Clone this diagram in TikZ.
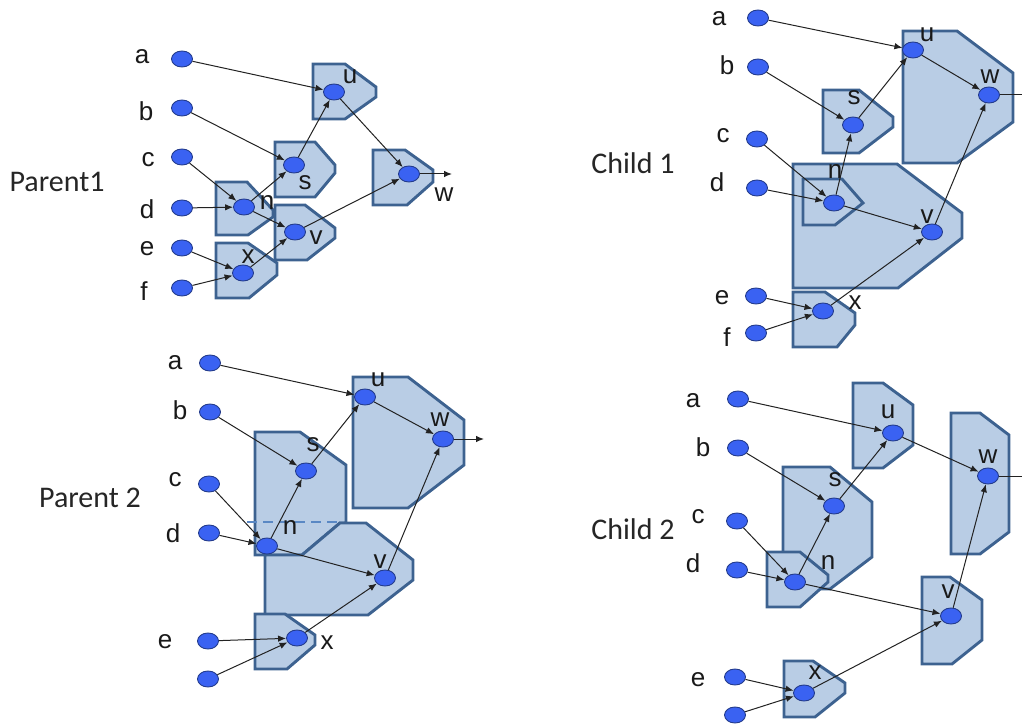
\documentclass[tikz,border=0pt]{standalone}
\usepackage{fontspec}
\setmainfont{Liberation Sans}
\newfontfamily\ttlfamily{Carlito}
\usetikzlibrary{shapes.geometric,arrows.meta}

\definecolor{blkfill}{HTML}{B9CDE5}
\definecolor{blkline}{HTML}{3D6290}
\definecolor{dotfill}{HTML}{3A62F2}
\definecolor{dotline}{HTML}{243C8C}
\definecolor{connc}{HTML}{222222}
\definecolor{dashc}{HTML}{5A88C4}
\definecolor{ttlc}{HTML}{262626}

\tikzset{
  blk/.style={fill=blkfill, draw=blkline, line width=2.9pt, line join=miter},
  bead/.style={ellipse, minimum width=21pt, minimum height=16pt, inner sep=0pt,
               fill=dotfill, draw=dotline, line width=0.9pt},
  lbl/.style={inner sep=0pt, text=black!90, font=\fontsize{26}{26}\selectfont},
  conn/.style={draw=connc, line width=1pt, -{Latex[length=8pt,width=6.5pt]}},
  ttl/.style={inner sep=0pt, text=ttlc, font=\ttlfamily\fontsize{30}{30}\selectfont},
  seam/.style={draw=dashc, line width=2.6pt, dash pattern=on 10pt off 6pt},
}

% the thirteen connections of one circuit, nodes prefixed by #1
\newcommand\wireup[1]{%
  \draw[conn] (#1a) -- (#1u);
  \draw[conn] (#1b) -- (#1s);
  \draw[conn] (#1c) -- (#1n);
  \draw[conn] (#1d) -- (#1n);
  \draw[conn] (#1e) -- (#1x);
  \draw[conn] (#1f) -- (#1x);
  \draw[conn] (#1n) -- (#1s);
  \draw[conn] (#1n) -- (#1v);
  \draw[conn] (#1x) -- (#1v);
  \draw[conn] (#1s) -- (#1u);
  \draw[conn] (#1u) -- (#1w);
  \draw[conn] (#1v) -- (#1w);
  \draw[conn] (#1w) -- (#1o);
}

\begin{document}
\begin{tikzpicture}[x=1pt,y=-1pt]
\useasboundingbox (0,0) rectangle (1022,727);

%% ---------------- Parent1 ----------------
\node[ttl] (t1) at (57,182) {Parent1};
\draw[blk] (313,64) -- (345,64) -- (376,87) -- (376,97) -- (345,119) -- (313,119) -- cycle;
\draw[blk] (275,142) -- (315,142) -- (335,165) -- (335,173) -- (315,197) -- (275,197) -- cycle;
\draw[blk] (373,150) -- (405,150) -- (433,170) -- (433,182) -- (407,205) -- (373,205) -- cycle;
\draw[blk] (216,182) -- (247,182) -- (273,210) -- (273,217) -- (248,235) -- (216,235) -- cycle;
\draw[blk] (275,205) -- (305,205) -- (335,228) -- (335,238) -- (307,260) -- (275,260) -- cycle;
\draw[blk] (216,243) -- (248,243) -- (277,263) -- (277,275) -- (249,298) -- (216,298) -- cycle;

\node[lbl] (P1la) at (142,57) {a};
\node[lbl] (P1lb) at (146,111) {b};
\node[lbl] (P1lc) at (148,160) {c};
\node[lbl] (P1ld) at (147,209) {d};
\node[lbl] (P1le) at (147,249) {e};
\node[lbl] (P1lf) at (144,291) {f};
\node[bead] (P1a) at (182,59) {};
\node[bead] (P1b) at (182,108) {};
\node[bead] (P1c) at (182,157) {};
\node[bead] (P1d) at (182,208) {};
\node[bead] (P1e) at (182,248) {};
\node[bead] (P1f) at (182,288) {};
\node[bead] (P1u) at (334,92) {};
\node[bead] (P1s) at (294,165) {};
\node[bead] (P1w) at (409,174) {};
\node[bead] (P1n) at (244,207) {};
\node[bead] (P1v) at (295,232) {};
\node[bead] (P1x) at (243,273) {};
\coordinate (P1o) at (452,174);
\node[lbl] (P1lu) at (350,77) {u};
\node[lbl] (P1ls) at (305,183) {s};
\node[lbl] (P1lw) at (444,195) {w};
\node[lbl] (P1ln) at (267,203) {n};
\node[lbl] (P1lv) at (316,238) {v};
\node[lbl] (P1lx) at (248,257) {x};
\wireup{P1}

%% ---------------- Child 1 ----------------
\node[ttl] (t2) at (633,163) {Child 1};
\draw[blk] (903,31) -- (957,31) -- (1013,73) -- (1013,122) -- (957,163) -- (903,163) -- cycle;
\draw[blk] (823,90) -- (859,90) -- (893,117) -- (893,127) -- (859,153) -- (823,153) -- cycle;
\draw[blk] (793,164) -- (897,164) -- (962,213) -- (962,238) -- (898,288) -- (793,288) -- cycle;
\draw[blk] (803,179) -- (842,179) -- (863,203) -- (835,225) -- (803,225) -- cycle;
\draw[blk] (793,292) -- (825,292) -- (855,313) -- (855,325) -- (837,347) -- (793,347) -- cycle;

\node[lbl] (C1la) at (719,19) {a};
\node[lbl] (C1lb) at (727,65) {b};
\node[lbl] (C1lc) at (723,136) {c};
\node[lbl] (C1ld) at (717,182) {d};
\node[lbl] (C1le) at (722,298) {e};
\node[lbl] (C1lf) at (727,337) {f};
\node[bead] (C1a) at (758,18) {};
\node[bead] (C1b) at (758,67) {};
\node[bead] (C1c) at (757,139) {};
\node[bead] (C1d) at (757,188) {};
\node[bead] (C1e) at (756,296) {};
\node[bead] (C1f) at (756,333) {};
\node[bead] (C1u) at (913,50) {};
\node[bead] (C1w) at (989,95) {};
\node[bead] (C1s) at (853,125) {};
\node[bead] (C1n) at (834,203) {};
\node[bead] (C1v) at (932,232) {};
\node[bead] (C1x) at (823,311) {};
\coordinate (C1o) at (1030,95);
\node[lbl] (C1lu) at (927,35) {u};
\node[lbl] (C1lw) at (990,77) {w};
\node[lbl] (C1ls) at (854,98) {s};
\node[lbl] (C1ln) at (835,172) {n};
\node[lbl] (C1lv) at (927,217) {v};
\node[lbl] (C1lx) at (855,303) {x};
\wireup{C1}

%% ---------------- Parent 2 ----------------
\node[ttl] (t3) at (90,498) {Parent 2};
\draw[blk] (353,377) -- (408,377) -- (464,420) -- (464,465) -- (408,508) -- (353,508) -- cycle;
\draw[blk] (255,432) -- (300,432) -- (346,465) -- (346,523) -- (340,523) -- (302,555) -- (255,555) -- cycle;
\draw[blk] (302,555) -- (340,523) -- (366,523) -- (413,560) -- (413,580) -- (368,615) -- (265,615) -- (265,555) -- cycle;
\draw[blk] (255,614) -- (285,614) -- (315,635) -- (315,645) -- (287,669) -- (255,669) -- cycle;
\draw[seam] (247,522) -- (340,522);

\node[lbl] (P2la) at (175,363) {a};
\node[lbl] (P2lb) at (180,410) {b};
\node[lbl] (P2lc) at (175,480) {c};
\node[lbl] (P2ld) at (173,533) {d};
\node[lbl] (P2le) at (165,642) {e};
\node[bead] (P2a) at (210,363) {};
\node[bead] (P2b) at (210,412) {};
\node[bead] (P2c) at (209,484) {};
\node[bead] (P2d) at (209,533) {};
\node[bead] (P2e) at (208,641) {};
\node[bead] (P2f) at (208,679) {};
\node[bead] (P2u) at (365,397) {};
\node[bead] (P2w) at (443,439) {};
\node[bead] (P2s) at (306,471) {};
\node[bead] (P2n) at (267,546) {};
\node[bead] (P2v) at (385,578) {};
\node[bead] (P2x) at (297,638) {};
\coordinate (P2o) at (484,439);
\node[lbl] (P2lu) at (378,380) {u};
\node[lbl] (P2lw) at (440,420) {w};
\node[lbl] (P2ls) at (313,445) {s};
\node[lbl] (P2ln) at (290,528) {n};
\node[lbl] (P2lv) at (380,562) {v};
\node[lbl] (P2lx) at (327,643) {x};
\wireup{P2}

%% ---------------- Child 2 ----------------
\node[ttl] (t4) at (633,529) {Child 2};
\draw[blk] (853,383) -- (883,383) -- (913,405) -- (913,445) -- (883,468) -- (853,468) -- cycle;
\draw[blk] (951,413) -- (980,413) -- (1009,435) -- (1009,532) -- (980,554) -- (951,554) -- cycle;
\draw[blk] (783,467) -- (830,467) -- (872,502) -- (872,557) -- (830,589) -- (783,589) -- cycle;
\draw[blk] (767,552) -- (800,552) -- (828,575) -- (828,582) -- (800,607) -- (767,607) -- cycle;
\draw[blk] (922,577) -- (950,577) -- (982,600) -- (982,640) -- (952,664) -- (922,664) -- cycle;
\draw[blk] (784,661) -- (813,661) -- (845,683) -- (845,693) -- (815,717) -- (784,717) -- cycle;

\node[lbl] (C2la) at (693,401) {a};
\node[lbl] (C2lb) at (703,447) {b};
\node[lbl] (C2lc) at (698,517) {c};
\node[lbl] (C2ld) at (693,563) {d};
\node[lbl] (C2le) at (698,680) {e};
\node[bead] (C2a) at (738,399) {};
\node[bead] (C2b) at (738,448) {};
\node[bead] (C2c) at (737,521) {};
\node[bead] (C2d) at (737,570) {};
\node[bead] (C2e) at (735,677) {};
\node[bead] (C2f) at (735,715) {};
\node[bead] (C2u) at (893,433) {};
\node[bead] (C2w) at (988,476) {};
\node[bead] (C2s) at (834,506) {};
\node[bead] (C2n) at (795,582) {};
\node[bead] (C2v) at (951,616) {};
\node[bead] (C2x) at (804,693) {};
\coordinate (C2o) at (1030,476);
\node[lbl] (C2lu) at (888,412) {u};
\node[lbl] (C2lw) at (988,457) {w};
\node[lbl] (C2ls) at (835,480) {s};
\node[lbl] (C2ln) at (828,563) {n};
\node[lbl] (C2lv) at (948,592) {v};
\node[lbl] (C2lx) at (815,673) {x};
\wireup{C2}
\end{tikzpicture}
\end{document}
